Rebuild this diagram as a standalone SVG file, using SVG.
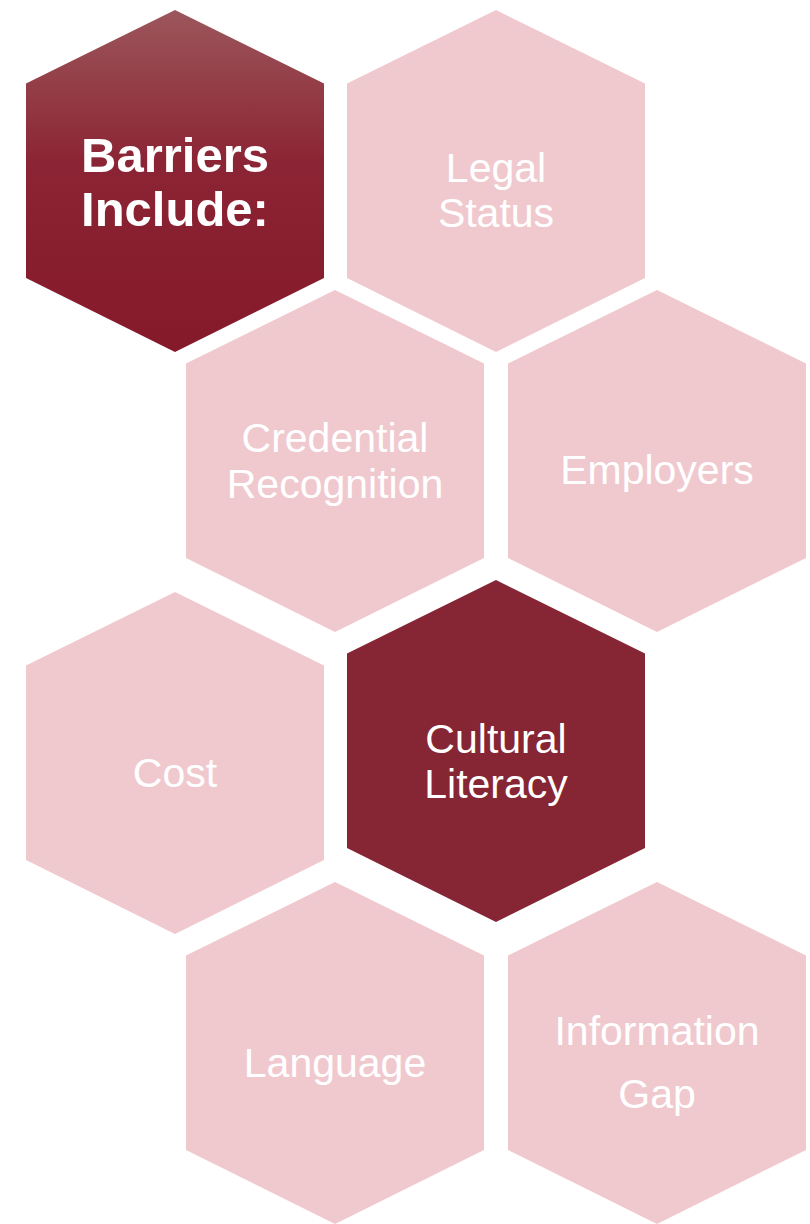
<svg xmlns="http://www.w3.org/2000/svg" width="810" height="1224" viewBox="0 0 810 1224">
  <defs>
    <linearGradient id="gDark" x1="0" y1="0" x2="0" y2="1">
      <stop offset="0" stop-color="#9C565B"/>
      <stop offset="0.45" stop-color="#8B2434"/>
      <stop offset="1" stop-color="#84192A"/>
    </linearGradient>
    <polygon id="hex" points="0,0 149,73.5 149,268 0,342 -149,268 -149,73.5"/>
  </defs>
  <style>
    .pink { fill: #F0C9CF; }
    .dark { fill: #862533; }
    .t { font-family: "Liberation Sans", Arial, sans-serif; font-size: 41px; fill: #FFFFFF; text-anchor: middle; }
    .tb { font-family: "Liberation Sans", Arial, sans-serif; font-size: 49px; font-weight: bold; fill: #FFFFFF; text-anchor: middle; }
  </style>
  <rect width="810" height="1224" fill="#FFFFFF"/>
  <g id="connectors"></g>
  <g id="barriers">
    <use href="#hex" x="175" y="10" fill="url(#gDark)"/>
    <text class="tb" x="175" y="171.7">Barriers</text>
    <text class="tb" x="175" y="225.7">Include:</text>
  </g>
  <g id="legal-status">
    <use href="#hex" x="496" y="10" class="pink"/>
    <text class="t" x="496" y="181.7">Legal</text>
    <text class="t" x="496" y="226.7">Status</text>
  </g>
  <g id="credential-recognition">
    <use href="#hex" x="335" y="290" class="pink"/>
    <text class="t" x="335" y="451.7">Credential</text>
    <text class="t" x="335" y="498.3">Recognition</text>
  </g>
  <g id="employers">
    <use href="#hex" x="657" y="290" class="pink"/>
    <text class="t" x="657" y="484">Employers</text>
  </g>
  <g id="cost">
    <use href="#hex" x="175" y="592" class="pink"/>
    <text class="t" x="175" y="786.7">Cost</text>
  </g>
  <g id="cultural-literacy">
    <use href="#hex" x="496" y="580" class="dark"/>
    <text class="t" x="496" y="752.7">Cultural</text>
    <text class="t" x="496" y="798.3">Literacy</text>
  </g>
  <g id="language">
    <use href="#hex" x="335" y="882" class="pink"/>
    <text class="t" x="335" y="1076.7">Language</text>
  </g>
  <g id="information-gap">
    <use href="#hex" x="657" y="882" class="pink"/>
    <text class="t" x="657" y="1045">Information</text>
    <text class="t" x="657" y="1108.3">Gap</text>
  </g>
</svg>
